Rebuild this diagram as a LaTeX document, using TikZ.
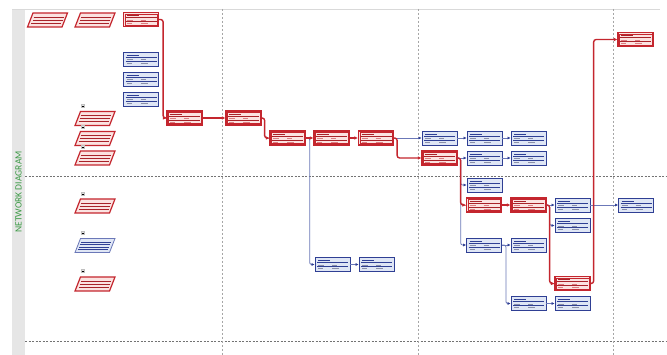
\documentclass[tikz,border=0pt]{standalone}
\usepackage{fontspec}
\setsansfont{Carlito}
\usetikzlibrary{arrows.meta,calc}
\definecolor{cpred}{HTML}{C4262E}
\definecolor{cpdred}{HTML}{A8232A}
\definecolor{cppink}{HTML}{FBE3E1}
\definecolor{cpblue}{HTML}{2F3F94}
\definecolor{cplblue}{HTML}{DFE6F5}
\definecolor{cpline}{HTML}{6B78B8}
\definecolor{cpgreen}{HTML}{3C9A46}
\definecolor{cpstrip}{HTML}{E6E6E6}
\definecolor{cptext}{HTML}{8A8FA8}
\newcommand{\cpinner}[2]{%
  \coordinate (q) at (path picture bounding box.north west);
  \draw[#1,line width=0.7pt] ($(q)+(3pt,-3pt)$) -- ++(12pt,0pt);
  \draw[#1,line width=1pt] ($(q)+(2pt,-5.5pt)$) -- ++(31pt,0pt);
  \draw[#2,line width=0.6pt] ($(q)+(3pt,-7.5pt)$) -- ++(6pt,0pt) ($(q)+(17pt,-7.5pt)$) -- ++(5pt,0pt);
  \draw[#1,line width=0.7pt] ($(q)+(2pt,-9.3pt)$) -- ++(31pt,0pt);
  \draw[#2,line width=0.6pt] ($(q)+(3pt,-11.2pt)$) -- ++(5pt,0pt) ($(q)+(17pt,-11.2pt)$) -- ++(7pt,0pt);
}
% red parallelogram at (x,y)
\newcommand{\cprpara}[2]{%
  \begin{scope}[shift={(#1,#2)}, xslant=0.39]
    \draw[cpred, line width=1.2pt, fill=cppink] (-17.25,-7) rectangle (17.25,7);
    \foreach \h in {-3,0,3}{\draw[cpdred, line width=0.7pt] (-15,\h) -- (15,\h);}
  \end{scope}}
\newcommand{\cpbpara}[2]{%
  \begin{scope}[shift={(#1,#2)}, xslant=0.39]
    \draw[cpline, line width=0.8pt, fill=cplblue] (-17.25,-7) rectangle (17.25,7);
    \foreach \h in {-3.5,-1,1.5,4}{\draw[cpblue, line width=0.7pt] (-15,\h) -- (15,\h);}
  \end{scope}}
\tikzset{
  taskbase/.style={rectangle, inner sep=0pt, minimum width=35pt, minimum height=14pt},
  rbox/.style={taskbase, draw=cpred, line width=1.3pt, fill=cppink,
    path picture={\cpinner{cpdred}{cpred!60}
      \draw[cpred,line width=0.4pt] ($(q)+(1.3pt,-1.3pt)$) rectangle ($(q)+(33.7pt,-12.7pt)$);}},
  bbox/.style={taskbase, draw=cpblue, line width=0.8pt, fill=cplblue,
    path picture={\cpinner{cpblue}{cptext}}},
  marker/.style={rectangle, inner sep=0pt, minimum size=3pt, fill=gray!25, draw=gray!50, line width=0.3pt,
    path picture={\draw[black,line width=0.6pt] ($(path picture bounding box.west)+(0.6pt,0pt)$) -- ($(path picture bounding box.east)+(-0.6pt,0pt)$);}},
  rline/.style={draw=cpred, line width=1.4pt, rounded corners=2.5pt, -{Latex[length=3.5pt,width=3.5pt]}},
  bline/.style={draw=cpline, line width=0.8pt, rounded corners=2pt, -{Latex[length=3pt,width=3pt,color=cpblue]}},
  gridv/.style={draw=gray!70, line width=0.6pt, dash pattern=on 2pt off 2pt},
  gridh/.style={draw=gray!90!black, line width=0.6pt, dash pattern=on 2pt off 1.5pt},
}
\begin{document}
\begin{tikzpicture}[x=1pt,y=-1pt]
\fill[white] (0,0) rectangle (667,355);
\useasboundingbox (0,0) rectangle (667,355);
% frame and strip
\fill[cpstrip] (12,9) rectangle (25,355);
\draw[gray!30, line width=0.8pt] (12,9) -- (660,9);
\node[rotate=90, text=cpgreen, font=\sffamily\fontsize{9.6}{11}\selectfont] (title) at (18.5,192) {NETWORK DIAGRAM};
% grid
\draw[gridh] (25,176) -- (667,176);
\draw[gridh] (25,341) -- (667,341);
\foreach \gx in {222,418,613}{\draw[gridv] (\gx,9) -- (\gx,355);}
% parallelograms
\cprpara{47.5}{20}
\cprpara{95}{20}
\cprpara{95}{118.5}
\cprpara{95}{138.5}
\cprpara{95}{158}
\cprpara{95}{206}
\cpbpara{95}{245.5}
\cprpara{95}{284}
\node[marker] (m3) at (83,106) {};
\node[marker] (m4) at (83,127) {};
\node[marker] (m5) at (83,147) {};
\node[marker] (m6) at (83,194) {};
\node[marker] (m7) at (83,233) {};
\node[marker] (m8) at (83,271) {};
% task boxes
\node[rbox] (rA) at (141,19.5) {};
\node[bbox] (b1) at (141,59) {};
\node[bbox] (b2) at (141,79) {};
\node[bbox] (b3) at (141,99) {};
\node[rbox] (rB) at (184.5,118) {};
\node[rbox] (rC) at (243.5,118) {};
\node[rbox] (rD) at (287.5,138) {};
\node[rbox] (rE) at (331.5,138) {};
\node[rbox] (rF) at (376,138) {};
\node[bbox] (b4) at (332.5,264.5) {};
\node[bbox] (b5) at (376.5,264.5) {};
\node[bbox] (b6) at (439.5,138) {};
\node[bbox] (b7) at (484.5,138) {};
\node[bbox] (b8) at (528.5,138) {};
\node[rbox] (rG) at (439.5,158) {};
\node[bbox] (b9) at (484.5,158) {};
\node[bbox] (b10) at (528.5,158) {};
\node[bbox] (b11) at (484.5,185) {};
\node[rbox] (rH) at (484,205) {};
\node[rbox] (rI) at (528.5,205) {};
\node[bbox] (b12) at (572.5,205) {};
\node[bbox] (b13) at (636,205) {};
\node[bbox] (b14) at (572.5,225.5) {};
\node[bbox] (b15) at (484,245) {};
\node[bbox] (b16) at (528.5,245) {};
\node[rbox] (rJ) at (572.5,283.5) {};
\node[bbox] (b17) at (528.5,303.5) {};
\node[bbox] (b18) at (572.5,303.5) {};
\node[rbox] (rK) at (635.5,39.5) {};
% blue connectors
\draw[bline] (rD.east) -- ++(4,0) |- (b4.west);
\draw[bline] (b4.east) -- (b5.west);
\draw[bline] (rF.east) -- (b6.west);
\draw[bline] (b6.east) -- (b7.west);
\draw[bline] (b7.east) -- (b8.west);
\draw[bline] (rG.east) -- (b9.west);
\draw[bline] (b9.east) -- (b10.west);
\draw[bline] (rG.east) -- ++(3,0) |- (b11.west);
\draw[bline] (rG.east) -- ++(3,0) |- (b15.west);
\draw[bline] (b15.east) -- (b16.west);
\draw[bline] (b15.east) -- ++(4,0) |- (b17.west);
\draw[bline] (b17.east) -- (b18.west);
\draw[bline] (rI.east) -- (b12.west);
\draw[bline] (rI.east) -- ++(3,0) |- (b14.west);
\draw[bline] (b12.east) -- (b13.west);
% red connectors
\draw[rline] (rA.east) -- ++(4,0) |- (rB.west);
\draw[rline] (rB.east) -- (rC.west);
\draw[rline] (rC.east) -- ++(3,0) |- (rD.west);
\draw[rline] (rD.east) -- (rE.west);
\draw[rline] (rE.east) -- (rF.west);
\draw[rline] (rF.east) -- ++(3,0) |- (rG.west);
\draw[rline] (rG.east) -- ++(3,0) |- (rH.west);
\draw[rline] (rH.east) -- (rI.west);
\draw[rline] (rI.east) -- ++(3,0) |- (rJ.west);
\draw[rline] (rJ.east) -- ++(3,0) |- (rK.west);
\end{tikzpicture}
\end{document}
